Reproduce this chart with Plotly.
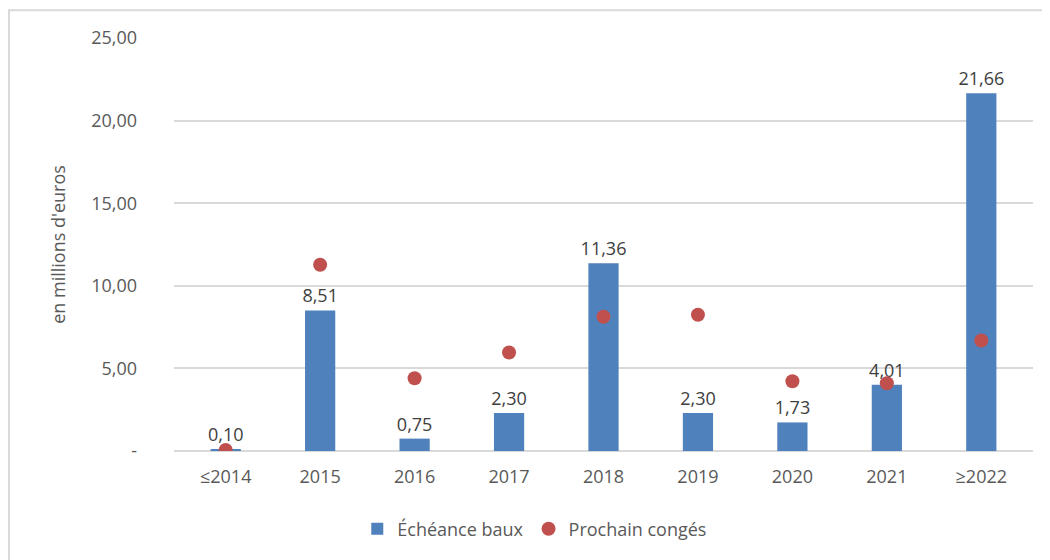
import plotly.graph_objects as go

# Données
periodes = ['≤2014', '2015', '2016', '2017', '2018', '2019', '2020', '2021', '≥2022']
echeance_baux = [0.10, 8.51, 0.75, 2.30, 11.36, 2.30, 1.73, 4.01, 21.66]
prochain_conges = [0.06, 11.27, 4.40, 5.96, 8.13, 8.25, 4.22, 4.10, 6.69]
graduations = [0, 5, 10, 15, 20, 25]
libelles_graduations = ['-', '5,00', '10,00', '15,00', '20,00', '25,00']

fig = go.Figure()

fig.add_trace(go.Bar(
	x=periodes,
	y=echeance_baux,
	name='Échéance baux',
	marker=dict(color='#4f81bd', line=dict(color='#4f81bd', width=0)),
	texttemplate='%{y:.2f}',
	textposition='outside',
	constraintext='none',
	textfont=dict(size=18, color='#404040'),
	cliponaxis=False,
))

fig.add_trace(go.Scatter(
	x=periodes,
	y=prochain_conges,
	name='Prochain congés',
	mode='markers',
	marker=dict(color='#c0504d', size=14),
))

# cadre gris autour du graphique (comme dans Excel)
fig.add_shape(
	type='rect', xref='paper', yref='paper',
	x0=(9 - 174) / 859, x1=(1043 - 174) / 859,
	y0=-0.27, y1=(453 - 10) / 415,
	line=dict(color='#d9d9d9', width=2),
)

# la page ajoute ~8 px de marge : on compense sur la taille et les marges
fig.update_layout(
	width=1042,
	height=552,
	separators=', ',
	margin=dict(l=166, r=17, t=30, b=107),
	paper_bgcolor='white',
	plot_bgcolor='white',
	font=dict(family='Open Sans, Liberation Sans, sans-serif', size=18, color='#595959'),
	bargap=0.68,
	showlegend=True,
	legend=dict(
		orientation='h',
		x=0.42, xanchor='center',
		y=-0.189, yanchor='middle',
		font=dict(size=18, color='#595959'),
		itemwidth=30,
	),
	xaxis=dict(
		showgrid=False,
		showline=False,
		ticks='',
		ticklabelstandoff=13,
		tickfont=dict(size=18),
	),
	yaxis=dict(
		range=[0, 25],
		tickvals=graduations,
		ticktext=libelles_graduations,
		gridcolor='#d9d9d9',
		gridwidth=1.5,
		zeroline=True,
		zerolinecolor='#d9d9d9',
		zerolinewidth=1.5,
		ticklabelstandoff=36,
		tickfont=dict(size=18),
		title=dict(text="en millions d'euros", font=dict(size=18, color='#595959'), standoff=20),
	),
)

fig.write_html('out.html')
